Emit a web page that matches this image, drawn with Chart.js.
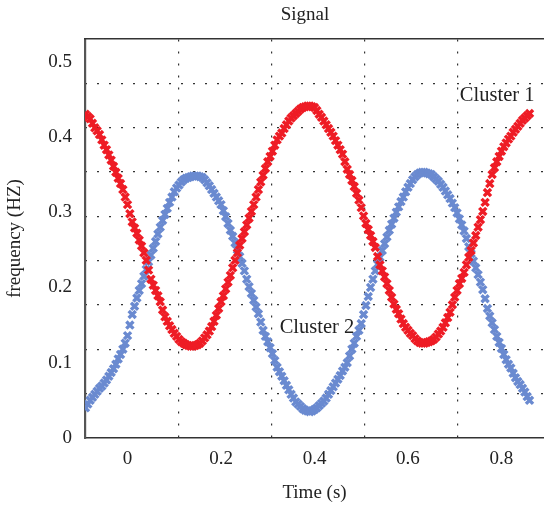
<!DOCTYPE html>
<html>
<head>
<meta charset="utf-8">
<script src="https://cdn.jsdelivr.net/npm/chart.js@4"></script>
<style>
  html, body { margin: 0; padding: 0; background: #fff; overflow: hidden; }
  canvas { display: block; }
</style>
</head>
<body>
<canvas id="signalChart" width="544" height="513"></canvas>
<script>
const timeS = [
  -0.090, -0.085, -0.080, -0.075, -0.070, -0.065, -0.060, -0.055, -0.050, -0.045,
  -0.040, -0.035, -0.030, -0.025, -0.020, -0.015, -0.010, -0.005, 0.000, 0.005,
  0.010, 0.015, 0.020, 0.025, 0.030, 0.035, 0.040, 0.045, 0.050, 0.055,
  0.060, 0.065, 0.070, 0.075, 0.080, 0.085, 0.090, 0.095, 0.100, 0.105,
  0.110, 0.115, 0.120, 0.125, 0.130, 0.135, 0.140, 0.145, 0.150, 0.155,
  0.160, 0.165, 0.170, 0.175, 0.180, 0.185, 0.190, 0.195, 0.200, 0.205,
  0.210, 0.215, 0.220, 0.225, 0.230, 0.235, 0.240, 0.245, 0.250, 0.255,
  0.260, 0.265, 0.270, 0.275, 0.280, 0.285, 0.290, 0.295, 0.300, 0.305,
  0.310, 0.315, 0.320, 0.325, 0.330, 0.335, 0.340, 0.345, 0.350, 0.355,
  0.360, 0.365, 0.370, 0.375, 0.380, 0.385, 0.390, 0.395, 0.400, 0.405,
  0.410, 0.415, 0.420, 0.425, 0.430, 0.435, 0.440, 0.445, 0.450, 0.455,
  0.460, 0.465, 0.470, 0.475, 0.480, 0.485, 0.490, 0.495, 0.500, 0.505,
  0.510, 0.515, 0.520, 0.525, 0.530, 0.535, 0.540, 0.545, 0.550, 0.555,
  0.560, 0.565, 0.570, 0.575, 0.580, 0.585, 0.590, 0.595, 0.600, 0.605,
  0.610, 0.615, 0.620, 0.625, 0.630, 0.635, 0.640, 0.645, 0.650, 0.655,
  0.660, 0.665, 0.670, 0.675, 0.680, 0.685, 0.690, 0.695, 0.700, 0.705,
  0.710, 0.715, 0.720, 0.725, 0.730, 0.735, 0.740, 0.745, 0.750, 0.755,
  0.760, 0.765, 0.770, 0.775, 0.780, 0.785, 0.790, 0.795, 0.800, 0.805,
  0.810, 0.815, 0.820, 0.825, 0.830, 0.835, 0.840, 0.845, 0.850, 0.855,
  0.860
];

// Cluster 1 (red)
const cluster1 = [
  0.430, 0.427, 0.424, 0.418, 0.412, 0.408, 0.403, 0.396, 0.389, 0.383,
  0.376, 0.369, 0.361, 0.353, 0.345, 0.338, 0.330, 0.320, 0.310, 0.298,
  0.287, 0.279, 0.272, 0.263, 0.255, 0.246, 0.236, 0.223, 0.211, 0.203,
  0.196, 0.189, 0.181, 0.170, 0.161, 0.155, 0.149, 0.144, 0.139, 0.135,
  0.131, 0.128, 0.126, 0.124, 0.123, 0.122, 0.122, 0.123, 0.124, 0.126,
  0.129, 0.133, 0.137, 0.142, 0.148, 0.155, 0.163, 0.172, 0.181, 0.189,
  0.198, 0.207, 0.216, 0.226, 0.236, 0.246, 0.256, 0.265, 0.274, 0.283,
  0.292, 0.301, 0.310, 0.320, 0.330, 0.340, 0.349, 0.358, 0.367, 0.374,
  0.381, 0.389, 0.396, 0.401, 0.405, 0.411, 0.416, 0.421, 0.425, 0.428,
  0.431, 0.434, 0.437, 0.439, 0.440, 0.441, 0.441, 0.440, 0.439, 0.435,
  0.430, 0.426, 0.421, 0.416, 0.411, 0.406, 0.401, 0.395, 0.389, 0.383,
  0.377, 0.367, 0.357, 0.350, 0.342, 0.334, 0.325, 0.316, 0.306, 0.295,
  0.285, 0.277, 0.269, 0.261, 0.253, 0.241, 0.230, 0.222, 0.214, 0.205,
  0.196, 0.187, 0.178, 0.171, 0.165, 0.158, 0.152, 0.147, 0.143, 0.139,
  0.136, 0.132, 0.129, 0.127, 0.126, 0.126, 0.127, 0.128, 0.129, 0.131,
  0.134, 0.138, 0.142, 0.147, 0.153, 0.160, 0.167, 0.177, 0.187, 0.196,
  0.205, 0.212, 0.220, 0.230, 0.240, 0.249, 0.259, 0.269, 0.280, 0.290,
  0.301, 0.313, 0.326, 0.338, 0.350, 0.359, 0.367, 0.374, 0.381, 0.387,
  0.392, 0.397, 0.401, 0.406, 0.410, 0.414, 0.418, 0.422, 0.425, 0.428,
  0.431
];

// Cluster 2 (blue)
const cluster2 = [
  0.040, 0.045, 0.050, 0.054, 0.058, 0.062, 0.066, 0.069, 0.073, 0.077,
  0.082, 0.087, 0.092, 0.098, 0.105, 0.111, 0.118, 0.126, 0.136, 0.150,
  0.164, 0.175, 0.186, 0.196, 0.205, 0.215, 0.224, 0.234, 0.243, 0.252,
  0.261, 0.271, 0.280, 0.289, 0.297, 0.305, 0.313, 0.320, 0.327, 0.332,
  0.336, 0.340, 0.343, 0.345, 0.346, 0.347, 0.348, 0.348, 0.348, 0.347,
  0.346, 0.343, 0.339, 0.335, 0.330, 0.325, 0.320, 0.315, 0.310, 0.302,
  0.294, 0.285, 0.276, 0.268, 0.259, 0.250, 0.241, 0.232, 0.222, 0.211,
  0.201, 0.192, 0.183, 0.174, 0.165, 0.154, 0.143, 0.135, 0.128, 0.120,
  0.112, 0.103, 0.094, 0.088, 0.082, 0.076, 0.070, 0.064, 0.058, 0.053,
  0.048, 0.045, 0.042, 0.039, 0.037, 0.036, 0.035, 0.036, 0.038, 0.040,
  0.043, 0.046, 0.049, 0.053, 0.058, 0.063, 0.068, 0.073, 0.078, 0.083,
  0.089, 0.094, 0.100, 0.109, 0.118, 0.126, 0.135, 0.143, 0.152, 0.164,
  0.176, 0.188, 0.200, 0.211, 0.222, 0.231, 0.240, 0.249, 0.258, 0.267,
  0.276, 0.284, 0.292, 0.300, 0.307, 0.314, 0.320, 0.327, 0.333, 0.338,
  0.343, 0.347, 0.350, 0.352, 0.353, 0.353, 0.352, 0.351, 0.350, 0.347,
  0.344, 0.341, 0.337, 0.333, 0.328, 0.323, 0.318, 0.312, 0.306, 0.299,
  0.291, 0.283, 0.275, 0.265, 0.254, 0.245, 0.235, 0.226, 0.217, 0.207,
  0.197, 0.185, 0.172, 0.162, 0.153, 0.144, 0.135, 0.127, 0.119, 0.111,
  0.104, 0.098, 0.093, 0.086, 0.080, 0.075, 0.071, 0.066, 0.061, 0.055,
  0.050
];

const xTicks = [0, 0.2, 0.4, 0.6, 0.8];
const yTicks = [0, 0.1, 0.2, 0.3, 0.4, 0.5];

const serif = '"Liberation Serif", "DejaVu Serif", serif';
const textColor = '#222';

function toPoints(ys) {
  return timeS.map((t, i) => ({ x: t, y: ys[i] }));
}

// title and the two in-plot labels
const labelsPlugin = {
  id: 'labels',
  afterDraw(chart) {
    const { ctx, scales } = chart;
    ctx.save();
    ctx.fillStyle = textColor;
    ctx.textBaseline = 'middle';
    ctx.font = '19px ' + serif;
    ctx.textAlign = 'center';
    ctx.fillText('Signal', 305, 15);
    ctx.font = '20.5px ' + serif;
    ctx.textAlign = 'left';
    ctx.fillText('Cluster 1', scales.x.getPixelForValue(0.711), scales.y.getPixelForValue(0.455));
    ctx.textAlign = 'right';
    ctx.fillText('Cluster 2', scales.x.getPixelForValue(0.485), scales.y.getPixelForValue(0.146));
    ctx.restore();
  }
};

const gridDots = { color: '#333', lineWidth: 1.2, drawTicks: false };

const ctx = document.getElementById('signalChart').getContext('2d');
const signalChart = new Chart(ctx, {
  type: 'scatter',
  data: {
    datasets: [
      {
        label: 'Cluster 1',
        data: toPoints(cluster1),
        pointStyle: 'crossRot',
        pointRadius: 5,
        pointBorderWidth: 3.4,
        borderColor: '#ee1c25',
        backgroundColor: '#ee1c25'
      },
      {
        label: 'Cluster 2',
        data: toPoints(cluster2),
        pointStyle: 'crossRot',
        pointRadius: 5,
        pointBorderWidth: 3.4,
        borderColor: '#6a8ad0',
        backgroundColor: '#6a8ad0'
      }
    ]
  },
  options: {
    responsive: false,
    animation: false,
    devicePixelRatio: 1,
    layout: { autoPadding: false, padding: { top: 39, right: 0, bottom: 0, left: 0 } },
    plugins: {
      legend: { display: false },
      tooltip: { enabled: false },
      title: { display: false }
    },
    scales: {
      x: {
        type: 'linear',
        position: 'bottom',
        min: -0.091,
        max: 0.891,
        afterBuildTicks: s => { s.ticks = xTicks.map(v => ({ value: v })); },
        afterFit: s => { s.height = 75; },
        grid: { display: false, drawTicks: false },
        border: { display: true, color: '#333', width: 1.6 },
        ticks: {
          color: textColor,
          font: { family: serif, size: 19 },
          padding: 10,
          maxRotation: 0,
          callback: v => String(v)
        },
        title: {
          display: true,
          text: 'Time (s)',
          color: textColor,
          font: { family: serif, size: 19 },
          padding: { top: 4, bottom: 9 }
        }
      },
      y: {
        type: 'linear',
        position: 'left',
        min: 0,
        max: 0.53,
        afterBuildTicks: s => { s.ticks = yTicks.map(v => ({ value: v })); },
        afterFit: s => { s.width = 85; },
        grid: { display: false, drawTicks: false },
        border: { display: true, color: '#555', width: 2.2 },
        ticks: {
          color: textColor,
          font: { family: serif, size: 19 },
          padding: 13,
          callback: v => String(v)
        },
        title: {
          display: true,
          text: 'frequency (HZ)',
          color: textColor,
          font: { family: serif, size: 19 },
          padding: { top: 4, bottom: 0 }
        }
      },
      // dotted grid: 5 columns, 9 rows, independent of the tick labels
      xg: {
        type: 'linear',
        position: 'top',
        min: -0.091,
        max: 0.891,
        afterBuildTicks: s => {
          const step = (0.906 + 0.091) / 5;
          s.ticks = [1, 2, 3, 4].map(k => ({ value: -0.091 + k * step }));
        },
        afterFit: s => { s.height = 0; },
        ticks: { display: false },
        grid: gridDots,
        border: { display: true, color: '#333', width: 1.6, dash: [2, 10] }
      },
      yg: {
        type: 'linear',
        position: 'right',
        min: 0,
        max: 0.53,
        afterBuildTicks: s => {
          s.ticks = [1, 2, 3, 4, 5, 6, 7, 8].map(k => ({ value: k * 0.53 / 9 }));
        },
        afterFit: s => { s.width = 0; },
        ticks: { display: false },
        grid: gridDots,
        border: { display: false, dash: [2, 10] }
      }
    }
  },
  plugins: [labelsPlugin]
});
</script>
</body>
</html>
